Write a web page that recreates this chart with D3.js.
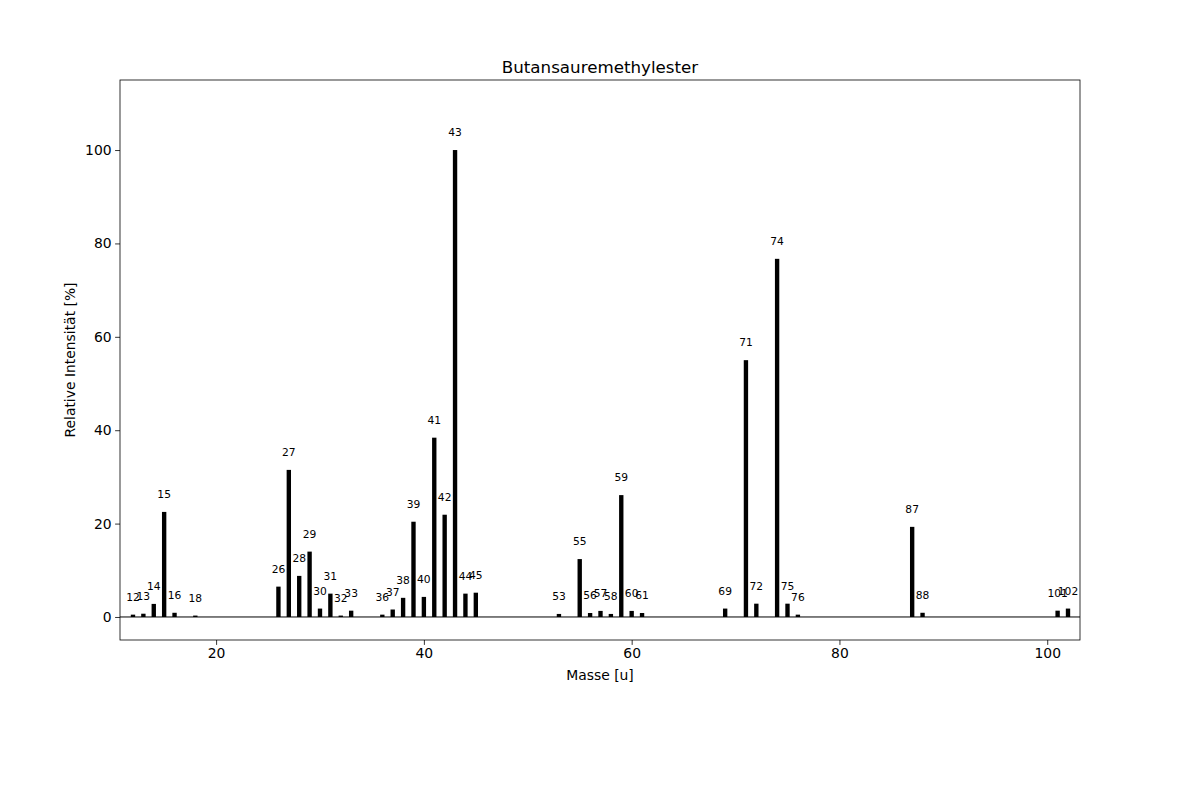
<!DOCTYPE html>
<html>
<head>
<meta charset="utf-8">
<script src="https://cdn.jsdelivr.net/npm/d3@7"></script>
<style>
  body { margin: 0; background: #fff; }
  svg text { font-family: "DejaVu Sans", sans-serif; fill: #000; }
</style>
</head>
<body>
<svg id="chart" width="1200" height="800"></svg>
<script>
const masses = [12,13,14,15,16,18,26,27,28,29,30,31,32,33,36,37,38,39,40,41,42,43,44,45,53,55,56,57,58,59,60,61,69,71,72,74,75,76,87,88,101,102];
const intensities = [0.5,0.7,2.8,22.5,0.9,0.3,6.5,31.5,8.8,14.0,1.8,5.0,0.3,1.35,0.5,1.6,4.1,20.4,4.3,38.4,21.9,100,5.0,5.2,0.65,12.4,0.85,1.3,0.65,26.1,1.3,0.85,1.8,55.0,2.85,76.7,2.85,0.5,19.3,0.9,1.35,1.8];
const xTicks = [20,40,60,80,100];
const yTicks = [0,20,40,60,80,100];
const title = "Butansauremethylester";
const xLabel = "Masse [u]";
const yLabel = "Relative Intensität [%]";

const svg = d3.select("#chart");
const mL = 120, mR = 1080, mT = 80, mB = 640;
const x = d3.scaleLinear().domain([10.75, 103.155]).range([mL, mR]);
const y = d3.scaleLinear().domain([-4.93, 115]).range([mB, mT]);
const barW = x(0.42) - x(0);
const data = masses.map((m,i)=>({m, v: intensities[i]}));

const g = svg.append("g");

g.selectAll("rect.bar").data(data)
  .enter().append("rect")
  .attr("x", d => x(d.m) - barW/2)
  .attr("y", d => y(d.v))
  .attr("width", barW)
  .attr("height", d => y(0) - y(d.v))
  .attr("fill", "#000");

g.append("line")
  .attr("x1", mL).attr("x2", mR)
  .attr("y1", y(0)).attr("y2", y(0))
  .attr("stroke", "#000").attr("stroke-width", 1);

g.selectAll("text.lbl").data(data)
  .enter().append("text")
  .attr("x", d => x(d.m))
  .attr("y", d => y(d.v) - 14)
  .attr("text-anchor", "middle")
  .attr("font-size", "10.7px")
  .text(d => d.m);

const xAxis = d3.axisBottom(x).tickValues(xTicks).tickSize(4.9).tickPadding(3.5);
const yAxis = d3.axisLeft(y).tickValues(yTicks).tickSize(4.9).tickPadding(3.5);
const gx = svg.append("g").attr("transform", `translate(0,${mB})`).call(xAxis);
const gy = svg.append("g").attr("transform", `translate(${mL},0)`).call(yAxis);
[gx, gy].forEach(a => {
  a.select(".domain").remove();
  a.selectAll("text").attr("font-size", "13.9px").attr("font-family", "DejaVu Sans, sans-serif");
  a.selectAll("line").attr("stroke", "#000").attr("stroke-width", 0.8);
});

svg.append("rect")
  .attr("x", mL).attr("y", mT)
  .attr("width", mR-mL).attr("height", mB-mT)
  .attr("fill", "none").attr("stroke", "#000").attr("stroke-width", 0.8);

svg.append("text").attr("x", (mL+mR)/2).attr("y", 73)
  .attr("text-anchor", "middle").attr("font-size", "16.7px").text(title);
svg.append("text").attr("x", (mL+mR)/2).attr("y", 680)
  .attr("text-anchor", "middle").attr("font-size", "13.9px").text(xLabel);
svg.append("text").attr("transform", `translate(75,${(mT+mB)/2}) rotate(-90)`)
  .attr("text-anchor", "middle").attr("font-size", "13.9px").text(yLabel);
</script>
</body>
</html>
